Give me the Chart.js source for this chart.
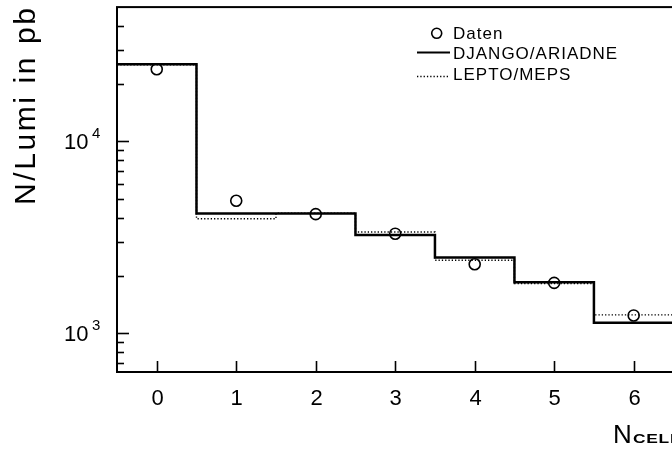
<!DOCTYPE html>
<html>
<head>
<meta charset="utf-8">
<title>N/Lumi vs N_CELL</title>
<script src="https://cdn.jsdelivr.net/npm/chart.js@4.4.0/dist/chart.umd.min.js"></script>
<style>
  html, body { margin: 0; padding: 0; background: #fff; overflow: hidden; }
  #wrap { width: 672px; height: 453px; overflow: hidden; }
  canvas { display: block; }
</style>
</head>
<body>
<div id="wrap"><canvas id="c" width="760" height="453"></canvas></div>
<script>
// Bin centres (N_CELL) and the measured / simulated rates in pb
const binCenters = [0, 1, 2, 3, 4, 5, 6];
const djangoAriadne = [25200, 4215, 4215, 3252, 2483, 1848, 1136];
const leptoMeps     = [25000, 3957, 4230, 3372, 2404, 1820, 1250];
const daten         = [23750, 4906, 4180, 3307, 2292, 1833, 1241];

// Axis labelling
const xTickLabels = ['0', '1', '2', '3', '4', '5', '6', '7'];
const yDecades = [3, 4];

const FONT = '"Liberation Sans", Arial, Helvetica, sans-serif';

// Step histogram: one point at each left bin edge, plus the last right edge
function histPoints(values) {
  const pts = binCenters.map((c, i) => ({ x: c - 0.5, y: values[i] }));
  const last = binCenters.length - 1;
  pts.push({ x: binCenters[last] + 0.5, y: values[last] });
  return pts;
}

const whiteBg = {
  id: 'whiteBg',
  beforeDraw(chart) {
    const ctx = chart.ctx;
    ctx.save();
    ctx.fillStyle = '#fff';
    ctx.fillRect(0, 0, chart.width, chart.height);
    ctx.restore();
  }
};

const frameAxes = {
  id: 'frameAxes',
  afterDatasetsDraw(chart) {
    const ctx = chart.ctx;
    const a = chart.chartArea;
    const xs = chart.scales.x, ys = chart.scales.y;
    ctx.save();
    ctx.strokeStyle = '#000';
    ctx.fillStyle = '#000';

    // frame
    ctx.lineWidth = 2;
    ctx.strokeRect(a.left, a.top, a.right - a.left, a.bottom - a.top);

    // x ticks and labels
    ctx.lineWidth = 1.6;
    ctx.font = '22px ' + FONT;
    ctx.textAlign = 'center';
    ctx.textBaseline = 'alphabetic';
    xTickLabels.forEach((lab, i) => {
      const px = Math.round(xs.getPixelForValue(i)) + 0.5;
      ctx.beginPath();
      ctx.moveTo(px, a.bottom);
      ctx.lineTo(px, a.bottom - 11);
      ctx.stroke();
      ctx.fillText(lab, px, 405);
    });

    // y ticks (log), major at powers of ten
    for (let e = 2; e <= 4; e++) {
      for (let m = 1; m <= 9; m++) {
        const v = m * Math.pow(10, e);
        if (v <= ys.min || v >= ys.max) continue;
        const py = Math.round(ys.getPixelForValue(v)) + 0.5;
        ctx.beginPath();
        ctx.moveTo(a.left, py);
        ctx.lineTo(a.left + (m === 1 ? 12 : 7), py);
        ctx.stroke();
      }
    }

    // y labels 10^n
    yDecades.forEach(e => {
      const py = ys.getPixelForValue(Math.pow(10, e));
      ctx.font = '22px ' + FONT;
      ctx.textAlign = 'right';
      ctx.fillText('10', 88.5, py + 8);
      ctx.font = '15px ' + FONT;
      ctx.textAlign = 'left';
      ctx.fillText(String(e), 92, py - 3);
    });

    // y title
    ctx.save();
    ctx.translate(35, 205);
    ctx.rotate(-Math.PI / 2);
    ctx.font = '30px ' + FONT;
    ctx.letterSpacing = '2.6px';
    ctx.textAlign = 'left';
    ctx.fillText('N/Lumi in pb', 0, 0);
    ctx.restore();

    // x title N_CELL
    ctx.font = '26px ' + FONT;
    ctx.textAlign = 'left';
    ctx.fillText('N', 613, 443);
    ctx.save();
    ctx.translate(633, 443);
    ctx.scale(1.45, 1);
    ctx.font = 'bold 12px ' + FONT;
    ctx.letterSpacing = '0.5px';
    ctx.fillText('CELL', 0, 0);
    ctx.restore();

    // legend
    ctx.font = '17px ' + FONT;
    ctx.letterSpacing = '1px';
    ctx.textAlign = 'left';
    ctx.lineWidth = 1.6;
    ctx.beginPath();
    ctx.arc(436.7, 33.3, 5, 0, Math.PI * 2);
    ctx.stroke();
    ctx.fillText('Daten', 453, 39);

    ctx.lineWidth = 2;
    ctx.beginPath();
    ctx.moveTo(417, 52.5);
    ctx.lineTo(450, 52.5);
    ctx.stroke();
    ctx.fillText('DJANGO/ARIADNE', 453, 59);

    ctx.lineWidth = 1.4;
    ctx.setLineDash([1.3, 2]);
    ctx.beginPath();
    ctx.moveTo(417, 76.5);
    ctx.lineTo(450, 76.5);
    ctx.stroke();
    ctx.setLineDash([]);
    ctx.fillText('LEPTO/MEPS', 453, 80);

    ctx.restore();
  }
};

new Chart(document.getElementById('c'), {
  type: 'line',
  data: {
    datasets: [
      {
        label: 'LEPTO/MEPS',
        data: histPoints(leptoMeps),
        stepped: 'before',
        borderColor: '#000',
        borderWidth: 1.4,
        borderDash: [1.3, 2],
        pointRadius: 0,
        fill: false
      },
      {
        label: 'DJANGO/ARIADNE',
        data: histPoints(djangoAriadne),
        stepped: 'before',
        borderColor: '#000',
        borderWidth: 2.5,
        pointRadius: 0,
        fill: false
      },
      {
        label: 'Daten',
        type: 'scatter',
        data: binCenters.map((c, i) => ({ x: c, y: daten[i] })),
        showLine: false,
        pointStyle: 'circle',
        pointRadius: 5.5,
        pointBorderWidth: 1.6,
        pointBorderColor: '#000',
        pointBackgroundColor: 'rgba(0,0,0,0)'
      }
    ]
  },
  options: {
    responsive: false,
    animation: false,
    devicePixelRatio: 1,
    layout: { padding: { left: 117, top: 6, right: 5, bottom: 81 } },
    scales: {
      x: { type: 'linear', min: -0.5, max: 7.5, display: false },
      y: { type: 'logarithmic', min: 630, max: 50000, display: false }
    },
    plugins: {
      legend: { display: false },
      tooltip: { enabled: false }
    }
  },
  plugins: [whiteBg, frameAxes]
});
</script>
</body>
</html>
